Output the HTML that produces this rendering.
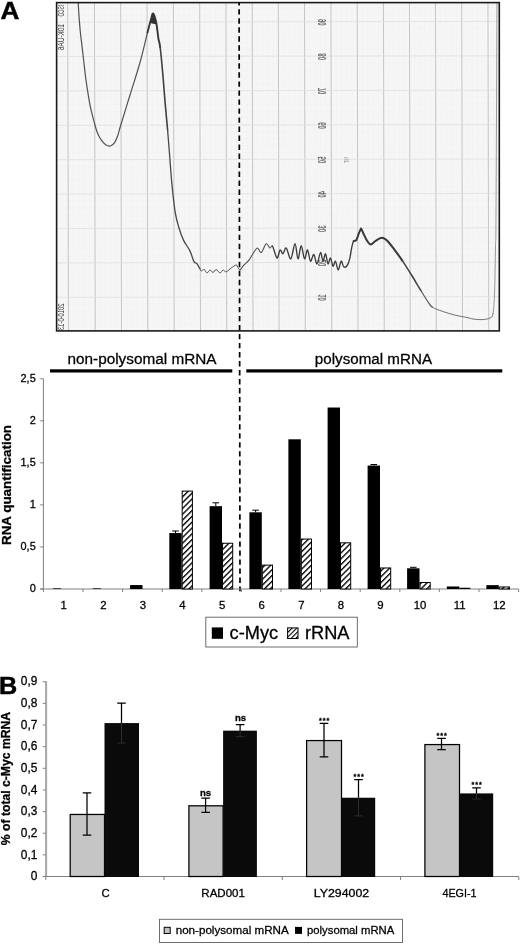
<!DOCTYPE html>
<html lang="en"><head><meta charset="utf-8"><title>Figure</title>
<style>html,body{margin:0;padding:0;background:#fff}svg{display:block}text{font-family:"Liberation Sans", sans-serif;fill:#000;stroke:#000;stroke-width:0.28px}.p{stroke:none}</style>
</head><body>
<svg width="520" height="945" viewBox="0 0 520 945">
<defs>
<pattern id="hatch" patternUnits="userSpaceOnUse" width="4.1" height="4.1" patternTransform="rotate(-45)"><rect width="4.1" height="4.1" fill="#fff"/><rect x="0" y="0" width="4.1" height="1.35" fill="#000"/></pattern>
<pattern id="hatch2" patternUnits="userSpaceOnUse" width="3.3" height="3.3" patternTransform="rotate(-45)"><rect width="3.3" height="3.3" fill="#fff"/><rect x="0" y="0" width="3.3" height="1.1" fill="#000"/></pattern>
</defs>
<rect width="520" height="945" fill="#fff"/>
<rect x="56.6" y="2.6" width="442.7" height="328.3" fill="#f6f6f6"/>
<path d="M62.40 2.6 L63.20 330.9 M67.70 2.6 L68.50 330.9 M73.05 2.6 L73.85 330.9 M78.40 2.6 L79.20 330.9 M83.75 2.6 L84.55 330.9 M89.10 2.6 L89.90 330.9 M94.45 2.6 L95.25 330.9 M99.70 2.6 L100.50 330.9 M104.95 2.6 L105.75 330.9 M110.20 2.6 L111.00 330.9 M115.45 2.6 L116.25 330.9 M120.70 2.6 L121.50 330.9 M125.96 2.6 L126.76 330.9 M131.22 2.6 L132.02 330.9 M136.48 2.6 L137.28 330.9 M141.74 2.6 L142.54 330.9 M147.00 2.6 L147.80 330.9 M152.28 2.6 L153.08 330.9 M157.56 2.6 L158.36 330.9 M162.84 2.6 L163.64 330.9 M168.12 2.6 L168.92 330.9 M173.40 2.6 L174.20 330.9 M178.66 2.6 L179.46 330.9 M183.92 2.6 L184.72 330.9 M189.18 2.6 L189.98 330.9 M194.44 2.6 L195.24 330.9 M199.70 2.6 L200.50 330.9 M204.95 2.6 L205.75 330.9 M210.20 2.6 L211.00 330.9 M215.45 2.6 L216.25 330.9 M220.70 2.6 L221.50 330.9 M225.95 2.6 L226.75 330.9 M231.20 2.6 L232.00 330.9 M236.45 2.6 L237.25 330.9 M241.70 2.6 L242.50 330.9 M246.95 2.6 L247.75 330.9 M252.20 2.6 L253.00 330.9 M257.42 2.6 L258.22 330.9 M262.64 2.6 L263.44 330.9 M267.86 2.6 L268.66 330.9 M273.08 2.6 L273.88 330.9 M278.30 2.6 L279.10 330.9 M283.54 2.6 L284.34 330.9 M288.78 2.6 L289.58 330.9 M294.02 2.6 L294.82 330.9 M299.26 2.6 L300.06 330.9 M304.50 2.6 L305.30 330.9 M309.79 2.6 L310.59 330.9 M315.08 2.6 L315.88 330.9 M320.37 2.6 L321.17 330.9 M325.66 2.6 L326.46 330.9 M330.95 2.6 L331.75 330.9 M336.20 2.6 L337.00 330.9 M341.45 2.6 L342.25 330.9 M346.70 2.6 L347.50 330.9 M351.95 2.6 L352.75 330.9 M357.20 2.6 L358.00 330.9 M362.45 2.6 L363.25 330.9 M367.70 2.6 L368.50 330.9 M372.95 2.6 L373.75 330.9 M378.20 2.6 L379.00 330.9 M383.45 2.6 L384.25 330.9 M388.65 2.6 L389.45 330.9 M393.85 2.6 L394.65 330.9 M399.05 2.6 L399.85 330.9 M404.25 2.6 L405.05 330.9 M409.45 2.6 L410.25 330.9 M414.65 2.6 L415.45 330.9 M419.85 2.6 L420.65 330.9 M425.05 2.6 L425.85 330.9 M430.25 2.6 L431.05 330.9 M435.45 2.6 L436.25 330.9 M440.70 2.6 L441.50 330.9 M445.95 2.6 L446.75 330.9 M451.20 2.6 L452.00 330.9 M456.45 2.6 L457.25 330.9 M461.70 2.6 L462.50 330.9 M466.95 2.6 L467.75 330.9 M472.20 2.6 L473.00 330.9 M477.45 2.6 L478.25 330.9 M482.70 2.6 L483.50 330.9 M487.95 2.6 L488.75 330.9 M493.20 2.6 L494.00 330.9" stroke="#f0f0f0" stroke-width="0.5" fill="none"/>
<path d="M56.6 8.34 L499.3 7.64 M56.6 15.22 L499.3 14.52 M56.6 22.10 L499.3 21.40 M56.6 28.98 L499.3 28.28 M56.6 35.86 L499.3 35.16 M56.6 42.74 L499.3 42.04 M56.6 49.62 L499.3 48.92 M56.6 56.50 L499.3 55.80 M56.6 63.38 L499.3 62.68 M56.6 70.26 L499.3 69.56 M56.6 77.14 L499.3 76.44 M56.6 84.02 L499.3 83.32 M56.6 90.90 L499.3 90.20 M56.6 97.78 L499.3 97.08 M56.6 104.66 L499.3 103.96 M56.6 111.54 L499.3 110.84 M56.6 118.42 L499.3 117.72 M56.6 125.30 L499.3 124.60 M56.6 132.18 L499.3 131.48 M56.6 139.06 L499.3 138.36 M56.6 145.94 L499.3 145.24 M56.6 152.82 L499.3 152.12 M56.6 159.70 L499.3 159.00 M56.6 166.58 L499.3 165.88 M56.6 173.46 L499.3 172.76 M56.6 180.34 L499.3 179.64 M56.6 187.22 L499.3 186.52 M56.6 194.10 L499.3 193.40 M56.6 200.98 L499.3 200.28 M56.6 207.86 L499.3 207.16 M56.6 214.74 L499.3 214.04 M56.6 221.62 L499.3 220.92 M56.6 228.50 L499.3 227.80 M56.6 235.38 L499.3 234.68 M56.6 242.26 L499.3 241.56 M56.6 249.14 L499.3 248.44 M56.6 256.02 L499.3 255.32 M56.6 262.90 L499.3 262.20 M56.6 269.78 L499.3 269.08 M56.6 276.66 L499.3 275.96 M56.6 283.54 L499.3 282.84 M56.6 290.42 L499.3 289.72 M56.6 297.30 L499.3 296.60 M56.6 304.18 L499.3 303.48 M56.6 311.06 L499.3 310.36 M56.6 317.94 L499.3 317.24 M56.6 324.82 L499.3 324.12" stroke="#f1f1f1" stroke-width="0.5" fill="none"/>
<path d="M67.70 2.6 L68.50 330.9 M94.45 2.6 L95.25 330.9 M120.70 2.6 L121.50 330.9 M147.00 2.6 L147.80 330.9 M173.40 2.6 L174.20 330.9 M199.70 2.6 L200.50 330.9 M225.95 2.6 L226.75 330.9 M252.20 2.6 L253.00 330.9 M278.30 2.6 L279.10 330.9 M304.50 2.6 L305.30 330.9 M330.95 2.6 L331.75 330.9 M357.20 2.6 L358.00 330.9 M383.45 2.6 L384.25 330.9 M409.45 2.6 L410.25 330.9 M435.45 2.6 L436.25 330.9 M461.70 2.6 L462.50 330.9 M487.95 2.6 L488.75 330.9" stroke="#bababa" stroke-width="0.8" fill="none"/>
<path d="M56.6 22.10 L499.3 21.40 M56.6 56.50 L499.3 55.80 M56.6 90.90 L499.3 90.20 M56.6 125.30 L499.3 124.60 M56.6 159.70 L499.3 159.00 M56.6 194.10 L499.3 193.40 M56.6 228.50 L499.3 227.80 M56.6 262.90 L499.3 262.20 M56.6 297.30 L499.3 296.60" stroke="#e0e0e0" stroke-width="0.8" fill="none"/>
<text transform="translate(325.9 22.3) scale(-1 1) rotate(90) scale(0.55 1)" font-size="11" font-weight="bold" text-anchor="middle" class="p" style="fill:#6a6a6a">90</text>
<text transform="translate(325.9 56.7) scale(-1 1) rotate(90) scale(0.55 1)" font-size="11" font-weight="bold" text-anchor="middle" class="p" style="fill:#6a6a6a">80</text>
<text transform="translate(325.9 91.1) scale(-1 1) rotate(90) scale(0.55 1)" font-size="11" font-weight="bold" text-anchor="middle" class="p" style="fill:#6a6a6a">70</text>
<text transform="translate(325.9 125.5) scale(-1 1) rotate(90) scale(0.55 1)" font-size="11" font-weight="bold" text-anchor="middle" class="p" style="fill:#6a6a6a">60</text>
<text transform="translate(325.9 159.9) scale(-1 1) rotate(90) scale(0.55 1)" font-size="11" font-weight="bold" text-anchor="middle" class="p" style="fill:#6a6a6a">50</text>
<text transform="translate(325.9 194.3) scale(-1 1) rotate(90) scale(0.55 1)" font-size="11" font-weight="bold" text-anchor="middle" class="p" style="fill:#6a6a6a">40</text>
<text transform="translate(325.9 228.7) scale(-1 1) rotate(90) scale(0.55 1)" font-size="11" font-weight="bold" text-anchor="middle" class="p" style="fill:#6a6a6a">30</text>
<text transform="translate(325.9 263.1) scale(-1 1) rotate(90) scale(0.55 1)" font-size="11" font-weight="bold" text-anchor="middle" class="p" style="fill:#6a6a6a">20</text>
<text transform="translate(325.9 297.5) scale(-1 1) rotate(90) scale(0.55 1)" font-size="11" font-weight="bold" text-anchor="middle" class="p" style="fill:#6a6a6a">10</text>
<text transform="translate(349 160) scale(-1 1) rotate(90) scale(0.6 1)" font-size="7" text-anchor="middle" class="p" style="fill:#8a8a8a">%T</text>
<text transform="translate(63.6 5) scale(-1 1) rotate(90)" font-size="8.8" textLength="11.5" lengthAdjust="spacingAndGlyphs" class="p" style="fill:#3a3a3a">ISCO</text>
<text transform="translate(63.6 24) scale(-1 1) rotate(90)" font-size="8.8" textLength="26" lengthAdjust="spacingAndGlyphs" class="p" style="fill:#3a3a3a">10K-UA6</text>
<text transform="translate(63.9 303.5) scale(-1 1) rotate(90)" font-size="8.8" textLength="26.5" lengthAdjust="spacingAndGlyphs" class="p" style="fill:#3a3a3a">2010-0-13</text>
<path d="M78.20 2.50 C78.33 4.73 78.65 11.03 79.00 15.90 C79.35 20.77 79.77 26.42 80.30 31.70 C80.83 36.98 81.58 42.30 82.20 47.60 C82.82 52.90 83.38 58.20 84.00 63.50 C84.62 68.80 85.18 74.12 85.90 79.40 C86.62 84.68 87.52 90.45 88.30 95.20 C89.08 99.95 89.68 103.67 90.60 107.90 C91.52 112.13 92.73 116.63 93.80 120.60 C94.87 124.57 95.80 128.52 97.00 131.70 C98.20 134.88 99.55 137.52 101.00 139.70 C102.45 141.88 104.12 143.75 105.70 144.80 C107.28 145.85 109.02 146.37 110.50 146.00 C111.98 145.63 113.38 144.35 114.60 142.60 C115.82 140.85 116.82 138.27 117.80 135.50 C118.78 132.73 118.47 132.75 120.50 126.00 C122.53 119.25 126.75 105.58 130.00 95.00 C133.25 84.42 137.08 72.92 140.00 62.50 C142.92 52.08 145.63 39.78 147.50 32.50" fill="none" stroke="#525252" stroke-width="1.2" stroke-linejoin="round" stroke-linecap="round"/>
<path d="M147.50 32.50 C149.37 25.22 150.25 21.97 151.20 18.80 C152.15 15.63 152.37 12.88 153.20 13.50 C154.03 14.12 155.33 18.33 156.20 22.50 C157.07 26.67 157.73 34.33 158.40 38.50 C159.07 42.67 159.45 41.40 160.20 47.50" fill="none" stroke="#383838" stroke-width="1.9" stroke-linejoin="round" stroke-linecap="round"/>
<path d="M160.20 47.50 C160.95 53.60 162.08 65.92 162.90 75.10 C163.72 84.28 164.32 93.42 165.10 102.60 C165.88 111.78 166.82 121.02 167.60 130.20" fill="none" stroke="#404040" stroke-width="1.6" stroke-linejoin="round" stroke-linecap="round"/>
<path d="M167.60 130.20 C168.38 139.38 169.07 148.52 169.80 157.70 C170.53 166.88 171.08 176.12 172.00 185.30 C172.92 194.48 174.13 205.68 175.30 212.80 C176.47 219.92 177.62 223.40 179.00 228.00 C180.38 232.60 181.80 236.63 183.60 240.40 C185.40 244.17 188.07 247.07 189.80 250.60 C191.53 254.13 192.85 259.47 194.00 261.60 C195.15 263.73 195.70 262.20 196.70 263.40 C197.70 264.60 199.25 267.53 200.00 268.80" fill="none" stroke="#484848" stroke-width="1.3" stroke-linejoin="round" stroke-linecap="round"/>
<path d="M200.00 268.80 C200.75 270.07 200.50 270.88 201.20 271.00 C201.90 271.12 203.23 269.17 204.20 269.50 C205.17 269.83 206.03 272.92 207.00 273.00 C207.97 273.08 209.00 270.08 210.00 270.00 C211.00 269.92 211.97 272.58 213.00 272.50 C214.03 272.42 215.03 269.42 216.20 269.50 C217.37 269.58 218.87 272.92 220.00 273.00 C221.13 273.08 221.97 270.20 223.00 270.00 C224.03 269.80 224.83 272.13 226.20 271.80 C227.57 271.47 229.53 269.13 231.20 268.00 C232.87 266.87 235.07 265.08 236.20 265.00 C237.33 264.92 237.37 266.67 238.00 267.50 C238.63 268.33 239.03 270.38 240.00 270.00" fill="none" stroke="#505050" stroke-width="1" stroke-linejoin="round" stroke-linecap="round"/>
<path d="M240.00 270.00 C240.97 269.62 242.27 266.90 243.80 265.20 C245.33 263.50 247.62 261.80 249.20 259.80 C250.78 257.80 251.92 255.17 253.30 253.20 C254.68 251.23 256.18 248.12 257.50 248.00 C258.82 247.88 259.75 253.20 261.20 252.50 C262.65 251.80 264.73 244.55 266.20 243.80 C267.67 243.05 268.95 247.60 270.00 248.00 C271.05 248.40 271.33 244.53 272.50 246.20" fill="none" stroke="#4c4c4c" stroke-width="1.05" stroke-linejoin="round" stroke-linecap="round"/>
<path d="M272.50 246.20 C273.67 247.87 275.75 257.37 277.00 258.00 C278.25 258.63 279.00 250.70 280.00 250.00 C281.00 249.30 281.97 254.13 283.00 253.80 C284.03 253.47 284.90 247.17 286.20 248.00 C287.50 248.83 289.33 259.50 290.80 258.80 C292.27 258.10 293.80 243.80 295.00 243.80 C296.20 243.80 296.97 258.47 298.00 258.80 C299.03 259.13 300.12 245.80 301.20 245.80 C302.28 245.80 303.45 258.10 304.50 258.80 C305.55 259.50 306.50 249.60 307.50 250.00 C308.50 250.40 309.45 260.45 310.50 261.20 C311.55 261.95 312.72 254.07 313.80 254.50 C314.88 254.93 315.88 264.13 317.00 263.80 C318.12 263.47 319.50 252.93 320.50 252.50 C321.50 252.07 322.17 260.98 323.00 261.20 C323.83 261.42 324.67 253.37 325.50 253.80 C326.33 254.23 327.17 263.10 328.00 263.80 C328.83 264.50 329.67 257.60 330.50 258.00 C331.33 258.40 332.17 265.67 333.00 266.20 C333.83 266.73 334.63 260.57 335.50 261.20 C336.37 261.83 337.25 270.00 338.20 270.00 C339.15 270.00 340.27 261.70 341.20 261.20 C342.13 260.70 342.75 266.37 343.80 267.00 C344.85 267.63 346.50 266.45 347.50 265.00 C348.50 263.55 349.05 261.45 349.80 258.30 C350.55 255.15 351.35 248.95 352.00 246.10 C352.65 243.25 352.98 242.20 353.70 241.20" fill="none" stroke="#3c3c3c" stroke-width="1.35" stroke-linejoin="round" stroke-linecap="round"/>
<path d="M353.70 241.20 C354.42 240.20 355.43 241.43 356.30 240.10 C357.17 238.77 358.22 234.92 358.90 233.20 C359.58 231.48 360.05 230.60 360.40 229.80 C360.75 229.00 360.78 228.40 361.00 228.40 C361.22 228.40 361.32 229.00 361.70 229.80 C362.08 230.60 362.47 231.48 363.30 233.20 C364.13 234.92 365.50 238.23 366.70 240.10 C367.90 241.97 369.05 244.25 370.50 244.40 C371.95 244.55 373.87 242.00 375.40 241.00 C376.93 240.00 378.42 238.90 379.70 238.40 C380.98 237.90 381.80 237.57 383.10 238.00 C384.40 238.43 385.62 239.07 387.50 241.00 C389.38 242.93 391.93 246.33 394.40 249.60 C396.87 252.87 399.45 256.37 402.30 260.60" fill="none" stroke="#383838" stroke-width="2" stroke-linejoin="round" stroke-linecap="round"/>
<path d="M402.30 260.60 C405.15 264.83 408.42 270.03 411.50 275.00 C414.58 279.97 417.97 285.78 420.80 290.40" fill="none" stroke="#404040" stroke-width="1.5" stroke-linejoin="round" stroke-linecap="round"/>
<path d="M420.80 290.40 C423.63 295.02 426.55 299.88 428.50 302.70 C430.45 305.52 430.20 305.87 432.50 307.30" fill="none" stroke="#555" stroke-width="1.15" stroke-linejoin="round" stroke-linecap="round"/>
<path d="M432.50 307.30 C434.80 308.73 438.62 310.02 442.30 311.30 C445.98 312.58 450.48 313.97 454.60 315.00 C458.72 316.03 463.93 316.83 467.00 317.50 C470.07 318.17 470.45 318.65 473.00 319.00 C475.55 319.35 479.47 319.77 482.30 319.60 C485.13 319.43 488.22 319.02 490.00 318.00 C491.78 316.98 492.23 317.83 493.00 313.50" fill="none" stroke="#666" stroke-width="0.95" stroke-linejoin="round" stroke-linecap="round"/>
<path d="M493.00 313.50 C493.77 309.17 494.18 303.28 494.60 292.00 C495.02 280.72 495.27 258.63 495.50 245.80 C495.73 232.97 495.75 255.55 496.00 215.00 C496.25 174.45 496.83 37.92 497.00 2.50" fill="none" stroke="#8c8c8c" stroke-width="0.9" stroke-linejoin="round" stroke-linecap="round"/>
<path d="M150.2 22.5 L153.1 13.2 L156.6 24 Z" fill="#333" stroke="#333" stroke-width="1" stroke-linejoin="round"/>
<rect x="56.6" y="2.6" width="442.7" height="328.3" fill="none" stroke="#1a1a1a" stroke-width="1.6"/>
<path d="M239.1 1.9 L240 591.2" stroke="#000" stroke-width="1.7" stroke-dasharray="5.4 3.62" stroke-dashoffset="1.7" fill="none"/>
<text x="0.4" y="18.7" font-size="24.8" font-weight="bold" textLength="18.9" lengthAdjust="spacingAndGlyphs" style="stroke-width:0.5px">A</text>
<text x="-0.9" y="693.7" font-size="24.2" font-weight="bold" textLength="18.2" lengthAdjust="spacingAndGlyphs" style="stroke-width:0.5px">B</text>
<rect x="50" y="369.3" width="182.3" height="3.2" fill="#000"/>
<rect x="246.3" y="369.3" width="256" height="3.2" fill="#000"/>
<text x="67.5" y="364.2" font-size="15.3" textLength="149" lengthAdjust="spacingAndGlyphs">non-polysomal mRNA</text>
<text x="314.8" y="364.2" font-size="15.3" textLength="117.2" lengthAdjust="spacingAndGlyphs">polysomal mRNA</text>
<path d="M43.4 378.7 V589 M40.2 589 H518.6 M40.2 589.00 H43.4 M40.2 546.95 H43.4 M40.2 504.90 H43.4 M40.2 462.85 H43.4 M40.2 420.80 H43.4 M40.2 378.75 H43.4 M43.40 589 V592 M83.00 589 V592 M122.60 589 V592 M162.20 589 V592 M201.80 589 V592 M241.40 589 V592 M281.00 589 V592 M320.60 589 V592 M360.20 589 V592 M399.80 589 V592 M439.40 589 V592 M479.00 589 V592 M518.60 589 V592" stroke="#808080" stroke-width="1" fill="none"/>
<text x="35.7" y="592.1" font-size="10.9" text-anchor="end">0</text>
<text x="35.7" y="550.1" font-size="10.9" text-anchor="end">0,5</text>
<text x="35.7" y="508.0" font-size="10.9" text-anchor="end">1</text>
<text x="35.7" y="466.0" font-size="10.9" text-anchor="end">1,5</text>
<text x="35.7" y="423.9" font-size="10.9" text-anchor="end">2</text>
<text x="35.7" y="381.9" font-size="10.9" text-anchor="end">2,5</text>
<text x="63.7" y="608.5" font-size="11.4" text-anchor="middle">1</text>
<text x="103.3" y="608.5" font-size="11.4" text-anchor="middle">2</text>
<text x="142.9" y="608.5" font-size="11.4" text-anchor="middle">3</text>
<text x="182.5" y="608.5" font-size="11.4" text-anchor="middle">4</text>
<text x="222.1" y="608.5" font-size="11.4" text-anchor="middle">5</text>
<text x="261.7" y="608.5" font-size="11.4" text-anchor="middle">6</text>
<text x="301.3" y="608.5" font-size="11.4" text-anchor="middle">7</text>
<text x="340.9" y="608.5" font-size="11.4" text-anchor="middle">8</text>
<text x="380.5" y="608.5" font-size="11.4" text-anchor="middle">9</text>
<text x="420.1" y="608.5" font-size="11.4" text-anchor="middle">10</text>
<text x="459.7" y="608.5" font-size="11.4" text-anchor="middle">11</text>
<text x="499.3" y="608.5" font-size="11.4" text-anchor="middle">12</text>
<text transform="translate(11.4 485) rotate(-90)" font-size="13.3" font-weight="bold" text-anchor="middle" textLength="120" lengthAdjust="spacingAndGlyphs">RNA quantification</text>
<rect x="52.90" y="588.36" width="8.00" height="0.64" fill="#000"/>
<rect x="92.80" y="588.36" width="8.00" height="0.64" fill="#000"/>
<rect x="130.10" y="585.05" width="12.40" height="3.95" fill="#000"/>
<rect x="169.30" y="533.07" width="12.40" height="55.93" fill="#000"/>
<rect x="182.20" y="491.10" width="10.20" height="97.90" fill="url(#hatch)" stroke="#000" stroke-width="1"/>
<path d="M175.50 533.07 V530.97 M172.20 530.97 H178.80" stroke="#000" stroke-width="1" fill="none"/>
<rect x="209.60" y="506.16" width="12.40" height="82.84" fill="#000"/>
<rect x="222.50" y="543.25" width="10.20" height="45.76" fill="url(#hatch)" stroke="#000" stroke-width="1"/>
<path d="M215.80 506.16 V502.80 M212.50 502.80 H219.10" stroke="#000" stroke-width="1" fill="none"/>
<rect x="249.40" y="512.30" width="12.40" height="76.70" fill="#000"/>
<rect x="262.30" y="565.11" width="10.20" height="23.89" fill="url(#hatch)" stroke="#000" stroke-width="1"/>
<path d="M255.60 512.30 V510.20 M252.30 510.20 H258.90" stroke="#000" stroke-width="1" fill="none"/>
<rect x="288.40" y="439.30" width="12.40" height="149.70" fill="#000"/>
<rect x="301.30" y="539.04" width="10.20" height="49.96" fill="url(#hatch)" stroke="#000" stroke-width="1"/>
<rect x="327.60" y="407.51" width="12.40" height="181.49" fill="#000"/>
<rect x="340.50" y="542.82" width="10.20" height="46.18" fill="url(#hatch)" stroke="#000" stroke-width="1"/>
<rect x="367.60" y="465.54" width="12.40" height="123.46" fill="#000"/>
<rect x="380.50" y="567.97" width="10.20" height="21.03" fill="url(#hatch)" stroke="#000" stroke-width="1"/>
<path d="M373.80 465.54 V464.53 M370.50 464.53 H377.10" stroke="#000" stroke-width="1" fill="none"/>
<rect x="407.10" y="568.31" width="12.40" height="20.69" fill="#000"/>
<rect x="420.00" y="582.52" width="10.20" height="6.48" fill="url(#hatch)" stroke="#000" stroke-width="1"/>
<path d="M413.30 568.31 V567.30 M410.00 567.30 H416.60" stroke="#000" stroke-width="1" fill="none"/>
<rect x="446.85" y="586.48" width="12.40" height="2.52" fill="#000"/>
<rect x="459.25" y="587.74" width="11.00" height="1.26" fill="#000"/>
<rect x="486.35" y="585.13" width="12.40" height="3.87" fill="#000"/>
<rect x="499.25" y="586.98" width="10.20" height="2.02" fill="url(#hatch)" stroke="#000" stroke-width="1"/>
<rect x="205.8" y="617.2" width="151.5" height="29.8" fill="#fff" stroke="#5e5e5e" stroke-width="0.9"/>
<rect x="211.8" y="627.4" width="11.2" height="11.4" fill="#000"/>
<rect x="287.6" y="627.9" width="10.4" height="10.6" fill="url(#hatch2)" stroke="#000" stroke-width="1"/>
<text x="229.6" y="638.6" font-size="18" textLength="48.6" lengthAdjust="spacingAndGlyphs">c-Myc</text>
<text x="305" y="638.6" font-size="18" textLength="44.5" lengthAdjust="spacingAndGlyphs">rRNA</text>
<path d="M46.1 681.3 V877" stroke="#a6a6a6" stroke-width="2" fill="none"/>
<path d="M42.8 876.5 H518.8 M42.8 876.50 H45.8 M42.8 854.86 H45.8 M42.8 833.22 H45.8 M42.8 811.58 H45.8 M42.8 789.94 H45.8 M42.8 768.30 H45.8 M42.8 746.66 H45.8 M42.8 725.02 H45.8 M42.8 703.38 H45.8 M42.8 681.74 H45.8 M45.80 876.5 V880 M164.05 876.5 V880 M282.30 876.5 V880 M400.55 876.5 V880 M518.80 876.5 V880" stroke="#808080" stroke-width="1" fill="none"/>
<text x="37.4" y="880.2" font-size="11.9" text-anchor="end">0</text>
<text x="37.4" y="858.6" font-size="11.9" text-anchor="end">0,1</text>
<text x="37.4" y="836.9" font-size="11.9" text-anchor="end">0,2</text>
<text x="37.4" y="815.3" font-size="11.9" text-anchor="end">0,3</text>
<text x="37.4" y="793.6" font-size="11.9" text-anchor="end">0,4</text>
<text x="37.4" y="772.0" font-size="11.9" text-anchor="end">0,5</text>
<text x="37.4" y="750.4" font-size="11.9" text-anchor="end">0,6</text>
<text x="37.4" y="728.7" font-size="11.9" text-anchor="end">0,7</text>
<text x="37.4" y="707.1" font-size="11.9" text-anchor="end">0,8</text>
<text x="37.4" y="685.4" font-size="11.9" text-anchor="end">0,9</text>
<text transform="translate(9.9 778.5) rotate(-90)" font-size="12" font-weight="bold" text-anchor="middle" textLength="133.3" lengthAdjust="spacingAndGlyphs">% of total c-Myc mRNA</text>
<rect x="70.20" y="814.46" width="34.30" height="62.04" fill="#c5c5c5" stroke="#000" stroke-width="1.25"/>
<rect x="104.50" y="723.07" width="34.50" height="153.93" fill="#0a0a0a"/>
<path d="M87.00 792.75 V835.17 M82.70 792.75 H91.30 M82.70 835.17 H91.30" stroke="#000" stroke-width="1.25" fill="none"/>
<path d="M121.50 703.16 V723.07 M117.20 703.16 H125.80" stroke="#000" stroke-width="1.25" fill="none"/>
<path d="M121.50 723.07 V742.98 M117.20 742.98 H125.80" stroke="#2d2d2d" stroke-width="1" fill="none"/>
<text x="105.7" y="897.1" font-size="11.3" text-anchor="middle">C</text>
<rect x="188.90" y="805.80" width="34.20" height="70.70" fill="#c5c5c5" stroke="#000" stroke-width="1.25"/>
<rect x="223.10" y="730.65" width="33.80" height="146.35" fill="#0a0a0a"/>
<path d="M205.60 798.16 V812.45 M201.30 798.16 H209.90 M201.30 812.45 H209.90" stroke="#000" stroke-width="1.25" fill="none"/>
<path d="M240.10 724.59 V730.65 M235.80 724.59 H244.40" stroke="#000" stroke-width="1.25" fill="none"/>
<path d="M240.10 730.65 V736.71 M235.80 736.71 H244.40" stroke="#2d2d2d" stroke-width="1" fill="none"/>
<text x="205.6" y="795.5" font-size="9.6" font-weight="bold" text-anchor="middle">ns</text>
<text x="240.6" y="720.7" font-size="9.6" font-weight="bold" text-anchor="middle">ns</text>
<text x="201.3" y="897.1" font-size="11.3" textLength="43.6" lengthAdjust="spacingAndGlyphs">RAD001</text>
<rect x="306.60" y="740.56" width="34.90" height="135.94" fill="#c5c5c5" stroke="#000" stroke-width="1.25"/>
<rect x="341.50" y="797.73" width="33.70" height="79.27" fill="#0a0a0a"/>
<path d="M324.00 723.29 V756.83 M319.70 723.29 H328.30 M319.70 756.83 H328.30" stroke="#000" stroke-width="1.25" fill="none"/>
<path d="M358.50 779.55 V797.73 M354.20 779.55 H362.80" stroke="#000" stroke-width="1.25" fill="none"/>
<path d="M358.50 797.73 V815.91 M354.20 815.91 H362.80" stroke="#2d2d2d" stroke-width="1" fill="none"/>
<text x="319.0" y="722.6" font-size="7.2" font-weight="bold" textLength="10.3" lengthAdjust="spacing">***</text>
<text x="353.5" y="778.9" font-size="7.2" font-weight="bold" textLength="10.3" lengthAdjust="spacing">***</text>
<text x="313.8" y="897.1" font-size="11.3" textLength="55.4" lengthAdjust="spacingAndGlyphs">LY294002</text>
<rect x="424.90" y="744.56" width="34.60" height="131.94" fill="#c5c5c5" stroke="#000" stroke-width="1.25"/>
<rect x="459.50" y="793.40" width="33.70" height="83.60" fill="#0a0a0a"/>
<path d="M441.50 738.44 V749.69 M437.20 738.44 H445.80 M437.20 749.69 H445.80" stroke="#000" stroke-width="1.25" fill="none"/>
<path d="M476.50 787.78 V793.40 M472.20 787.78 H480.80" stroke="#000" stroke-width="1.25" fill="none"/>
<path d="M476.50 793.40 V799.03 M472.20 799.03 H480.80" stroke="#2d2d2d" stroke-width="1" fill="none"/>
<text x="436.5" y="737.7" font-size="7.2" font-weight="bold" textLength="10.3" lengthAdjust="spacing">***</text>
<text x="471.5" y="787.1" font-size="7.2" font-weight="bold" textLength="10.3" lengthAdjust="spacing">***</text>
<text x="442.4" y="897.1" font-size="11.3" textLength="34.2" lengthAdjust="spacingAndGlyphs">4EGI-1</text>
<rect x="159.5" y="919.3" width="243" height="23.2" fill="#fff" stroke="#5e5e5e" stroke-width="0.9"/>
<rect x="164.2" y="927.3" width="6" height="6.2" fill="#c3c3c3" stroke="#000" stroke-width="1"/>
<rect x="295" y="926.9" width="7" height="7" fill="#000"/>
<text x="175.7" y="933.8" font-size="11.3" textLength="113" lengthAdjust="spacingAndGlyphs">non-polysomal mRNA</text>
<text x="307" y="933.8" font-size="11.3" textLength="87.3" lengthAdjust="spacingAndGlyphs">polysomal mRNA</text>
</svg>
</body></html>
